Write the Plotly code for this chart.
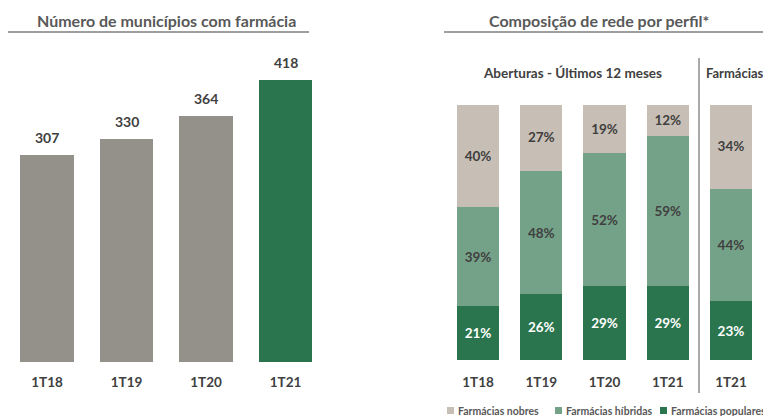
import plotly.graph_objects as go

# ---- data ----
mun_periods = ["1T18", "1T19", "1T20", "1T21"]
mun_values = [307, 330, 364, 418]

mix_periods = ["1T18", "1T19", "1T20", "1T21", "1T21"]
mix_populares = [21, 26, 29, 29, 23]
mix_hibridas = [39, 48, 52, 59, 44]
mix_nobres = [40, 27, 19, 12, 34]
series_names = ["Farmácias nobres", "Farmácias híbridas", "Farmácias populares"]

# page has an 8px body margin: figure occupies reference pixels 8..771 x 8..416
OFF = 8
W, H = 771 - OFF, 416 - OFF
FONT = "Lato"
TXT = "#404040"
TITLE_C = "#595959"
C_GRAY = "#93918A"
C_GREEN = "#2A754D"
C_NOB = "#C7BFB5"
C_HIB = "#74A288"
C_POP = "#2A754D"

def px_x(p):
    return (p - OFF) / W

def px_y(p):
    return (416 - p) / H

fig = go.Figure()

# Left chart
bar_colors = [C_GRAY] * (len(mun_values) - 1) + [C_GREEN]
fig.add_trace(go.Bar(
    x=mun_periods, y=mun_values, marker=dict(color=bar_colors, line=dict(width=0)),
    xaxis="x", yaxis="y", showlegend=False, hoverinfo="skip",
))
annotations = []
for p, v in zip(mun_periods, mun_values):
    annotations.append(dict(
        x=p, y=v, xref="x", yref="y", text=f"<b>{v}</b>", showarrow=False,
        xanchor="center", yanchor="bottom", yshift=7,
        font=dict(family=FONT, size=14, color=TXT),
    ))

# Right chart
idx = list(range(len(mix_periods)))
series = [
    (series_names[2], mix_populares, C_POP, "white"),
    (series_names[1], mix_hibridas, C_HIB, TXT),
    (series_names[0], mix_nobres, C_NOB, TXT),
]
for name, vals, col, tcol in series:
    fig.add_trace(go.Bar(
        x=idx, y=vals, name=name, marker=dict(color=col, line=dict(width=0)),
        text=[f"<b>{v}%</b>" for v in vals], textposition="inside",
        insidetextanchor="middle", constraintext="none",
        textfont=dict(family=FONT, size=13.5, color=tcol),
        xaxis="x2", yaxis="y2", hoverinfo="skip", showlegend=False,
    ))

def label(x, y, text, size, color, xanchor="center"):
    return dict(x=px_x(x), y=px_y(y), xref="paper", yref="paper", text=text,
                showarrow=False, xanchor=xanchor, yanchor="middle",
                font=dict(family=FONT, size=size, color=color))

annotations += [
    label(166, 20, "<b>Número de municípios com farmácia</b>", 16, TITLE_C),
    label(599, 20, "<b>Composição de rede por perfil*</b>", 16, TITLE_C),
    label(572, 73, "<b>Aberturas - Últimos 12 meses</b>", 13.5, TXT),
    label(735, 73, "<b>Farmácias</b>", 13, TXT),
]

shapes = [
    dict(type="line", xref="paper", yref="paper", x0=px_x(8), x1=px_x(309),
         y0=px_y(32), y1=px_y(32), line=dict(color="#7F7F7F", width=1.5)),
    dict(type="line", xref="paper", yref="paper", x0=px_x(444), x1=px_x(765),
         y0=px_y(32), y1=px_y(32), line=dict(color="#7F7F7F", width=1.5)),
    dict(type="line", xref="paper", yref="paper", x0=px_x(699), x1=px_x(699),
         y0=px_y(58), y1=px_y(393), line=dict(color="#8C8C8C", width=1.5)),
]

# manual legend
leg_x = [447, 555, 660]
leg_cols = [C_NOB, C_HIB, C_POP]
for lx, name, col in zip(leg_x, series_names, leg_cols):
    shapes.append(dict(type="rect", xref="paper", yref="paper",
                       x0=px_x(lx), x1=px_x(lx + 7), y0=px_y(414), y1=px_y(407),
                       fillcolor=col, line=dict(width=0)))
    annotations.append(label(lx + 8.5, 411, f"<b>{name}</b>", 10.5, "#595959",
                             xanchor="left"))

# left axis: 79.5 px per category, first centre at x=47
left_start = -0.5 + (OFF - 7.25) / 79.5
tickfont = dict(family=FONT, size=13.5, color=TXT)
fig.update_layout(
    width=W, height=H, margin=dict(l=0, r=0, t=0, b=0, autoexpand=False),
    paper_bgcolor="white", plot_bgcolor="white",
    barmode="stack", bargap=0.333, showlegend=False,
    annotations=annotations, shapes=shapes,
    xaxis=dict(domain=[0, px_x(325.25)], range=[left_start, len(mun_periods) - 0.5],
               showgrid=False, zeroline=False,
               showline=False, ticks="", tickfont=tickfont, ticklabelstandoff=10,
               tickprefix="<b>", ticksuffix="</b>", automargin=False),
    yaxis=dict(domain=[px_y(362), px_y(50)], range=[0, 462], visible=False),
    xaxis2=dict(domain=[px_x(446.4), px_x(762.6)], anchor="y2", showgrid=False,
                zeroline=False, showline=False, ticks="", tickfont=tickfont,
                tickvals=idx, ticktext=[f"<b>{p}</b>" for p in mix_periods],
                range=[-0.5, len(idx) - 0.5], ticklabelstandoff=12, automargin=False),
    yaxis2=dict(domain=[px_y(360), px_y(105)], range=[0, 100], visible=False,
                anchor="x2"),
)
fig.write_html("out.html")
